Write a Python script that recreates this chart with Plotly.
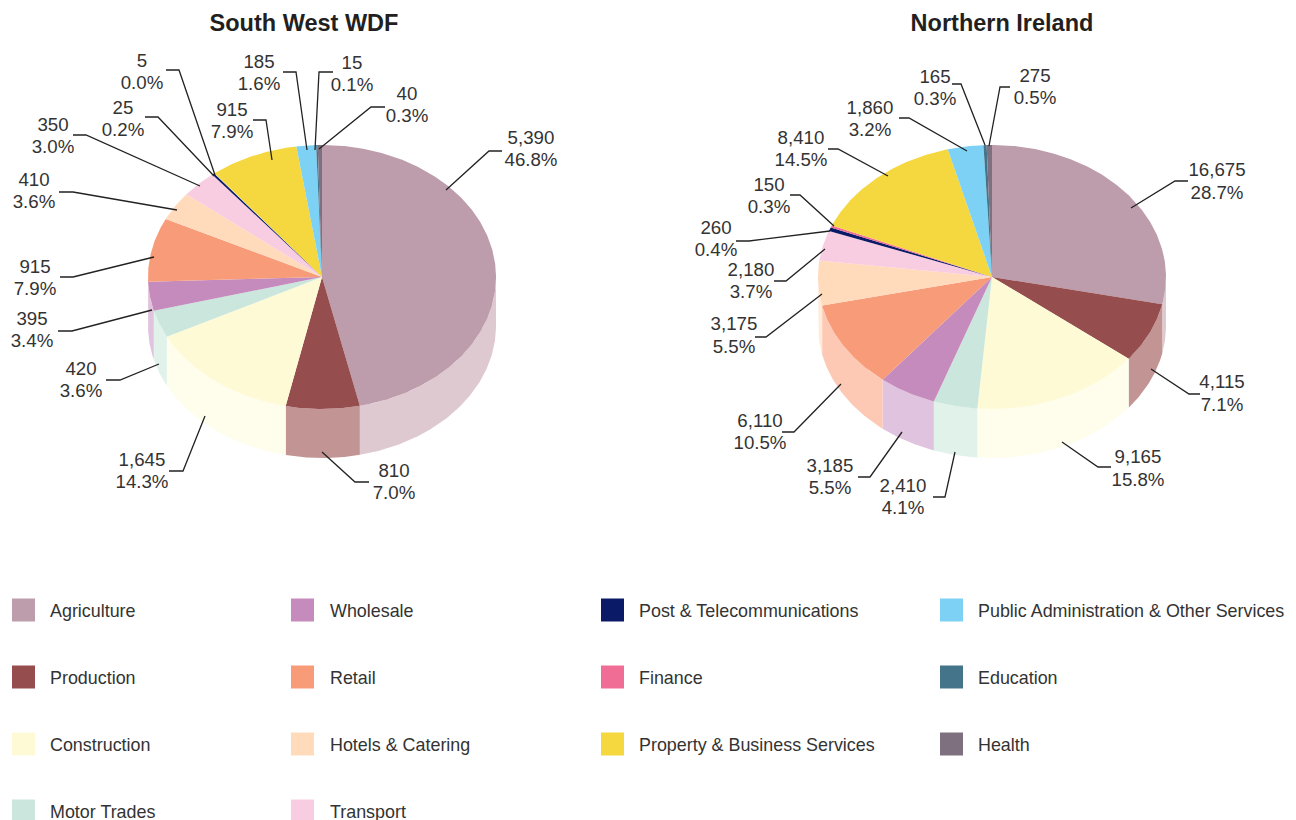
import numpy as np
import plotly.graph_objects as go

categories = ["Agriculture", "Production", "Construction", "Motor Trades", "Wholesale",
              "Retail", "Hotels & Catering", "Transport", "Post & Telecommunications",
              "Finance", "Property & Business Services", "Public Administration & Other Services",
              "Education", "Health"]
sw_values = [5390, 810, 1645, 420, 395, 915, 410, 350, 25, 5, 915, 185, 15, 40]
ni_values = [16675, 4115, 9165, 2410, 3185, 6110, 3175, 2180, 260, 150, 8410, 1860, 165, 275]
sw_pct = ["46.8%", "7.0%", "14.3%", "3.6%", "3.4%", "7.9%", "3.6%", "3.0%", "0.2%", "0.0%", "7.9%", "1.6%", "0.1%", "0.3%"]
ni_pct = ["28.7%", "7.1%", "15.8%", "4.1%", "5.5%", "10.5%", "5.5%", "3.7%", "0.4%", "0.3%", "14.5%", "3.2%", "0.3%", "0.5%"]

top_colors = ["#BD9CAB", "#964D4E", "#FFFAD6", "#CBE6DC", "#C68BBD", "#F79B79", "#FFDABB",
              "#F8CCE1", "#0A1A66", "#F06E95", "#F5D83F", "#7CD1F5", "#44748A", "#7F707F"]
side_colors = ["#DFC9D0", "#C29594", "#FFFDEC", "#E1F2EB", "#E0C3DE", "#FDC9B4", "#FFEBDA",
               "#FBE4EF", "#8088B0", "#F7B5C9", "#FAEB9F", "#BDE8FA", "#A1B9C4", "#BFB7BF"]

# Label layout: text centre x, first line y, second line y; leader path
sw_labels = [
    (531, 138, 160, [(446, 190), (489, 151), (502, 151)]),
    (394, 471, 493, [(322, 452), (355, 482), (369, 482)]),
    (142, 460, 482, [(205, 416), (183, 471), (169, 471)]),
    (81, 369, 391, [(159, 364), (120, 380), (106, 380)]),
    (32, 319, 341, [(152, 310), (72, 331), (58, 331)]),
    (35, 267, 289, [(154, 257), (73, 277), (60, 277)]),
    (34, 180, 202, [(177, 210), (73, 192), (59, 192)]),
    (53, 125, 147, [(200, 186), (86, 135), (73, 135)]),
    (123, 108, 130, [(214, 176), (158, 117), (145, 117)]),
    (142, 61, 83, [(215, 175), (179, 70), (166, 70)]),
    (232, 110, 132, [(272, 160), (266, 120), (253, 120)]),
    (259, 62, 84, [(307, 150), (296, 72), (283, 72)]),
    (352, 63, 85, [(315, 150), (319, 72), (333, 72)]),
    (407, 94, 116, [(319, 149), (371, 107), (385, 107)]),
]
ni_labels = [
    (1217, 170, 193, [(1131, 208), (1175, 181), (1188, 181)]),
    (1222, 382, 405, [(1151, 369), (1189, 394), (1200, 394)]),
    (1138, 457, 480, [(1062, 442), (1098, 467), (1111, 467)]),
    (903, 486, 508, [(955, 452), (945, 497), (933, 497)]),
    (830, 466, 488, [(902, 432), (870, 477), (858, 477)]),
    (760, 421, 443, [(841, 384), (794, 432), (782, 432)]),
    (734, 324, 347, [(822, 294), (766, 337), (755, 337)]),
    (751, 270, 292, [(825, 249), (786, 281), (774, 281)]),
    (716, 228, 250, [(830, 231), (749, 241), (736, 241)]),
    (769, 185, 207, [(834, 226), (800, 195), (790, 195)]),
    (801, 138, 160, [(888, 176), (838, 149), (828, 149)]),
    (870, 108, 130, [(967, 151), (909, 118), (899, 118)]),
    (935, 77, 99, [(985, 145), (961, 84), (952, 84)]),
    (1035, 76, 98, [(989, 146), (1000, 87), (1010, 87)]),
]

# Small drawing correction (degrees): the source pies sit slightly behind their nominal angles
sw_warp = ([0, 168.4, 193.7, 245.05, 258.2, 270.5, 299, 311.9, 322.8, 352.35, 360],
           [0, 1, 1.7, 2.05, 3.1, 2.7, 3.1, 3.2, 2.1, 1, 0])
ni_warp = ([0, 103.2, 128.6, 185.4, 220, 257.8, 277.4, 290.9, 345.5, 360],
           [0, 1.4, 0.5, 0.66, 1.2, 0.5, 0.5, 0.7, 0.5, 0])

FONT = "Liberation Sans"
TEXT = "#333333"
RX, RY, DEPTH, CY = 174, 132, 49, 277
LABEL_DY = 1.5

fig = go.Figure()


def arc(cx, cy, a0, a1):
    n = max(2, int(abs(a1 - a0) / 0.01) + 2)
    t = np.linspace(a0, a1, n)
    return cx + RX * np.sin(t), cy - RY * np.cos(t)


def add_pie(cx, values, pct, labels, warp):
    vals = np.array(values, float)
    deg = np.concatenate([[0], np.cumsum(vals)]) / vals.sum() * 360
    edges = np.radians(deg - np.interp(deg, warp[0], warp[1]))
    for i, name in enumerate(categories):
        a0, a1 = max(edges[i], np.pi / 2), min(edges[i + 1], 3 * np.pi / 2)
        if a1 <= a0:
            continue
        x, y = arc(cx, CY, a0, a1)
        xs = np.concatenate([x, x[::-1], x[:1]])
        ys = np.concatenate([y, y[::-1] + DEPTH, y[:1]])
        fig.add_trace(go.Scatter(x=xs, y=ys, mode="lines", fill="toself", line=dict(width=0),
                                 fillcolor=side_colors[i], name=name, hoverinfo="skip"))
    for i, name in enumerate(categories):
        x, y = arc(cx, CY, edges[i], edges[i + 1])
        xs = np.concatenate([[cx], x, [cx]])
        ys = np.concatenate([[CY], y, [CY]])
        fig.add_trace(go.Scatter(x=xs, y=ys, mode="lines", fill="toself", line=dict(width=0),
                                 fillcolor=top_colors[i], name=name,
                                 hoverinfo="text", text=f"{name}: {values[i]:,} ({pct[i]})"))
    lx, ly = [], []
    for (_, _, _, path) in labels:
        lx += [p[0] for p in path] + [None]
        ly += [p[1] for p in path] + [None]
    fig.add_trace(go.Scatter(x=lx, y=ly, mode="lines", line=dict(color="#222222", width=1.3),
                             hoverinfo="skip"))
    tx, ty, tt = [], [], []
    for i, (x, y1, y2, _) in enumerate(labels):
        tx += [x, x]
        ty += [y1 + LABEL_DY, y2 + LABEL_DY]
        tt += [f"{values[i]:,}", pct[i]]
    fig.add_trace(go.Scatter(x=tx, y=ty, mode="text", text=tt, textposition="middle center",
                             textfont=dict(family=FONT, size=18.7, color=TEXT), hoverinfo="skip"))


add_pie(322, sw_values, sw_pct, sw_labels, sw_warp)
add_pie(992, ni_values, ni_pct, ni_labels, ni_warp)

# Titles
fig.add_trace(go.Scatter(x=[304, 1002], y=[25, 25], mode="text",
                         text=["<b>South West WDF</b>", "<b>Northern Ireland</b>"],
                         textposition="middle center",
                         textfont=dict(family=FONT, size=23.5, color="#231F20"), hoverinfo="skip"))

# Legend, laid out in four columns
legend_cols = [
    ([12, 50], [0, 1, 2, 3]),
    ([291, 330], [4, 5, 6, 7]),
    ([601, 639], [8, 9, 10]),
    ([940, 978], [11, 12, 13]),
]
legend_rows = [610, 677, 744, 811]
for (sx, tx), items in legend_cols:
    for r, i in enumerate(items):
        fig.add_trace(go.Scatter(x=[sx + 11.5], y=[legend_rows[r]], mode="markers",
                                 marker=dict(symbol="square", size=23, color=top_colors[i], line=dict(width=0)),
                                 hoverinfo="skip"))
        fig.add_trace(go.Scatter(x=[tx], y=[legend_rows[r] + 3], mode="text", text=[categories[i]],
                                 textposition="middle right",
                                 textfont=dict(family=FONT, size=17.9, color=TEXT), hoverinfo="skip"))

fig.update_layout(
    width=1296, height=820, margin=dict(l=0, r=0, t=0, b=0),
    paper_bgcolor="white", plot_bgcolor="white", showlegend=False,
    xaxis=dict(range=[0, 1296], visible=False, fixedrange=True),
    yaxis=dict(range=[820, 0], visible=False, fixedrange=True),
)
fig.write_html("out.html", config=dict(displayModeBar=False),
               post_script="document.body.style.margin='0';document.body.style.overflow='hidden';")
